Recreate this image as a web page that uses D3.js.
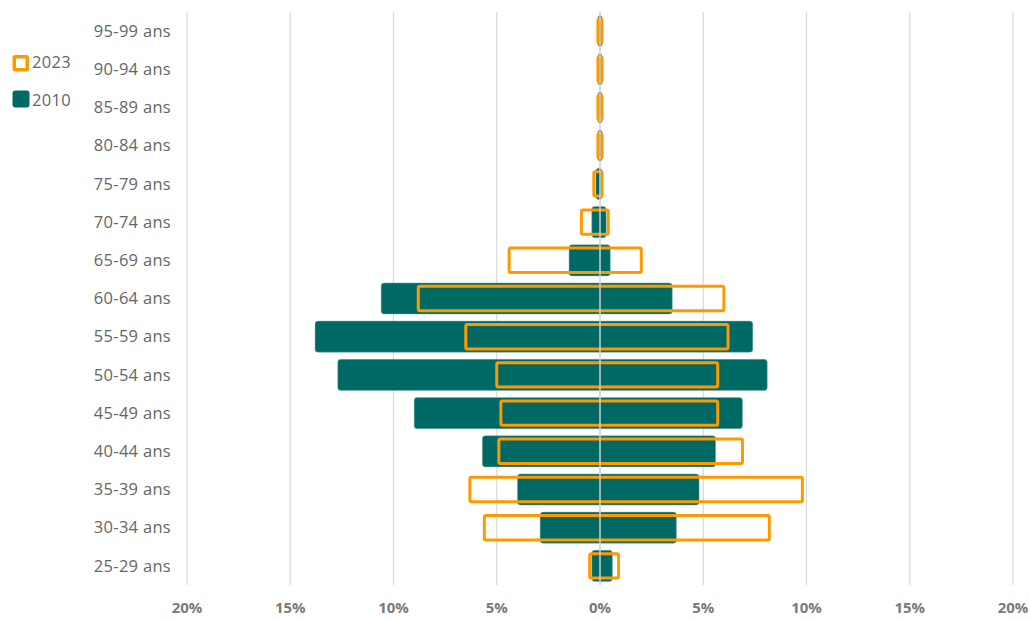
<!DOCTYPE html>
<html>
<head>
<meta charset="utf-8">
<script src="https://cdn.jsdelivr.net/npm/d3@7/dist/d3.min.js"></script>
<style>
  html, body { margin: 0; padding: 0; background: #ffffff; }
  svg { display: block; }
</style>
</head>
<body>
<svg id="chart" width="1030" height="619"></svg>
<script>
// Age groups, top to bottom
const ageGroups = ["95-99 ans", "90-94 ans", "85-89 ans", "80-84 ans", "75-79 ans",
  "70-74 ans", "65-69 ans", "60-64 ans", "55-59 ans", "50-54 ans",
  "45-49 ans", "40-44 ans", "35-39 ans", "30-34 ans", "25-29 ans"];

// Share of population (%) — left side and right side of the pyramid
const left2010  = [0.1, 0.1, 0.1, 0.1, 0.2, 0.4, 1.5, 10.6, 13.8, 12.7, 9.0, 5.7, 4.0, 2.9, 0.4];
const right2010 = [0.1, 0.1, 0.1, 0.1, 0.1, 0.3, 0.5, 3.5, 7.4, 8.1, 6.9, 5.6, 4.8, 3.7, 0.6];
const left2023  = [0.1, 0.1, 0.1, 0.1, 0.3, 0.9, 4.4, 8.8, 6.5, 5.0, 4.8, 4.9, 6.3, 5.6, 0.5];
const right2023 = [0.1, 0.1, 0.1, 0.1, 0.1, 0.4, 2.0, 6.0, 6.2, 5.7, 5.7, 6.9, 9.8, 8.2, 0.9];

const xTicks = [-20, -15, -10, -5, 0, 5, 10, 15, 20];
const legendLabels = ["2023", "2010"];

const TEAL = "#006963";
const ORANGE = "#FF9900";
const FONT = "'Open Sans', sans-serif";

const svg = d3.select("#chart");
const margin = { top: 12, right: 17, bottom: 34, left: 187 };
const W = 1030, H = 619;

const x = d3.scaleLinear().domain([-20, 20]).range([margin.left, W - margin.right]);
const y = d3.scaleBand().domain(ageGroups).range([margin.top, H - margin.bottom]).paddingInner(0.2).paddingOuter(0.1);

// vertical gridlines
svg.append("g").selectAll("line").data(xTicks.filter(d => d !== 0)).join("line")
  .attr("x1", d => x(d)).attr("x2", d => x(d))
  .attr("y1", margin.top).attr("y2", H - margin.bottom)
  .attr("stroke", "#d9d9d9").attr("stroke-width", 1.2);

const rows = ageGroups.map((a, i) => ({
  age: a, l10: left2010[i], r10: right2010[i], l23: left2023[i], r23: right2023[i]
}));

// 2010 bars (filled)
const bh = y.bandwidth() * 1.02;
svg.append("g").selectAll("rect").data(rows).join("rect")
  .attr("x", d => x(-d.l10))
  .attr("width", d => x(d.r10) - x(-d.l10))
  .attr("y", d => y(d.age) + y.bandwidth() / 2 - bh / 2)
  .attr("height", bh)
  .attr("rx", 3).attr("ry", 3)
  .attr("fill", TEAL)
  .attr("stroke", "#7fb3b0").attr("stroke-width", 0.8).attr("stroke-opacity", 0.6);

// 2023 bars (outline only)
const oh = y.bandwidth() * 0.8;
svg.append("g").selectAll("rect").data(rows).join("rect")
  .attr("x", d => x(-d.l23))
  .attr("width", d => x(d.r23) - x(-d.l23))
  .attr("y", d => y(d.age) + y.bandwidth() / 2 - oh / 2)
  .attr("height", oh)
  .attr("rx", 1.5).attr("ry", 1.5)
  .attr("fill", "none")
  .attr("stroke", ORANGE).attr("stroke-width", 3);

// centre axis line over the bars
svg.append("line")
  .attr("x1", x(0)).attr("x2", x(0))
  .attr("y1", margin.top).attr("y2", H - margin.bottom)
  .attr("stroke", "#d0d0d0").attr("stroke-width", 1.5);

// category labels
svg.append("g").selectAll("text").data(ageGroups).join("text")
  .attr("x", 171)
  .attr("y", d => y(d) + y.bandwidth() / 2)
  .attr("dy", "0.35em")
  .attr("text-anchor", "end")
  .attr("font-family", FONT)
  .attr("font-size", 16.5)
  .attr("letter-spacing", 0.3)
  .attr("fill", "#666666")
  .text(d => d);

// x axis labels
svg.append("g").selectAll("text").data(xTicks).join("text")
  .attr("x", d => x(d))
  .attr("y", 608)
  .attr("dy", "0.35em")
  .attr("text-anchor", "middle")
  .attr("font-family", FONT)
  .attr("font-weight", "bold")
  .attr("font-size", 15)
  .attr("fill", "#7a7a7a")
  .text(d => Math.abs(d) + "%");

// legend
const lg = svg.append("g");
lg.append("rect").attr("x", 14.25).attr("y", 56.75).attr("width", 13).attr("height", 13)
  .attr("fill", "#ffffff").attr("stroke", ORANGE).attr("stroke-width", 3.5).attr("rx", 1);
lg.append("rect").attr("x", 12.5).attr("y", 90.5).attr("width", 17).attr("height", 17)
  .attr("fill", TEAL).attr("rx", 3);
lg.selectAll("text").data(legendLabels).join("text")
  .attr("x", 32)
  .attr("y", (d, i) => 62 + i * 38)
  .attr("dy", "0.35em")
  .attr("font-family", FONT)
  .attr("font-size", 16.5)
  .attr("letter-spacing", 0.3)
  .attr("fill", "#666666")
  .text(d => d);
</script>
</body>
</html>
